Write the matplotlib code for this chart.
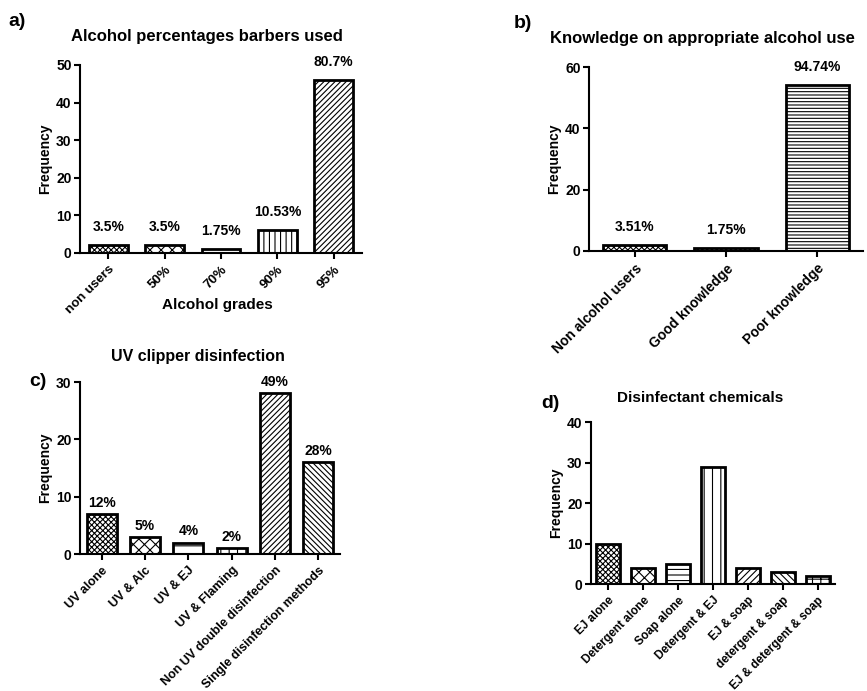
import numpy as np
import matplotlib
matplotlib.use("Agg")
import matplotlib.pyplot as plt

plt.rcParams.update({
    "font.family": ["Liberation Sans", "DejaVu Sans"],
    "font.weight": "bold",
    "axes.labelweight": "bold",
    "axes.linewidth": 1.5,
    "xtick.major.width": 1.5,
    "ytick.major.width": 1.5,
    "xtick.major.size": 4,
    "ytick.major.size": 4,
    "hatch.linewidth": 0.8,
})

# ---- data ----
a_cats = ["non users", "50%", "70%", "90%", "95%"]
a_vals = [2, 2, 1, 6, 46]
a_pct = ["3.5%", "3.5%", "1.75%", "10.53%", "80.7%"]
a_hatch = ["xxxxxx", "xxx", "", "|||", "//////"]

b_cats = ["Non alcohol users", "Good knowledge", "Poor knowledge"]
b_vals = [2, 1, 54]
b_pct = ["3.51%", "1.75%", "94.74%"]
b_hatch = ["xxxxxx", "xxxxxxx", "-----"]

c_cats = ["UV alone", "UV & Alc", "UV & EJ", "UV & Flaming",
          "Non UV double disinfection", "Single disinfection methods"]
c_vals = [7, 3, 2, 1, 28, 16]
c_pct = ["12%", "5%", "4%", "2%", "49%", "28%"]
c_hatch = ["xxxxxx", "xxx", "--", "++", "//////", "\\\\\\\\\\\\"]

d_cats = ["EJ alone", "Detergent alone", "Soap alone", "Detergent & EJ",
          "EJ & soap", "detergent & soap", "EJ & detergent & soap"]
d_vals = [10, 4, 5, 29, 4, 3, 2]
d_hatch = ["xxxxxx", "xxx", "---", "||", "/////", "\\\\\\\\\\", "++"]

W, H = 867, 691
fig = plt.figure(figsize=(W / 100, H / 100), dpi=100)


def px_axes(x0, x1, ytop, ybot):
    return fig.add_axes([x0 / W, 1 - ybot / H, (x1 - x0) / W, (ybot - ytop) / H])


def draw(ax, cats, vals, hatches, ymax, ystep, tick_fs, pct=None, off=10):
    x = np.arange(len(cats))
    for xi, v, h in zip(x, vals, hatches):
        ax.bar(xi, v, width=0.69, color="white", edgecolor="black",
               linewidth=2, hatch=h)
    if pct is not None:
        for xi, v, p in zip(x, vals, pct):
            ax.annotate(p, (xi, v), xytext=(0, off), textcoords="offset points",
                        ha="center", va="bottom", fontsize=10, fontweight="bold")
    ax.set_xlim(-0.5, len(cats) - 0.5)
    ax.set_ylim(0, ymax)
    ax.set_yticks(np.arange(0, ymax + 1, ystep))
    ax.set_xticks(x)
    ax.set_xticklabels(cats, rotation=45, ha="right", rotation_mode="anchor",
                       fontsize=tick_fs, fontweight="bold")
    ax.tick_params(axis="y", labelsize=10, pad=2)
    for s in ["top", "right"]:
        ax.spines[s].set_visible(False)
    ax.set_ylabel("Frequency", fontsize=10, fontweight="bold", labelpad=3)


# a)
ax_a = px_axes(80, 362, 65, 253)
draw(ax_a, a_cats, a_vals, a_hatch, 50, 10, 9.5, a_pct, off=8)
fig.text(217 / W, 1 - 305 / H, "Alcohol grades", ha="center", va="center",
         fontsize=11, fontweight="bold")
fig.text(207 / W, 1 - 36 / H, "Alcohol percentages barbers used", ha="center",
         va="center", fontsize=12, fontweight="bold")
fig.text(8 / W, 1 - 22 / H, "a)", ha="left", va="center", fontsize=14,
         fontweight="bold")

# b)
ax_b = px_axes(589, 863, 67, 251)
draw(ax_b, b_cats, b_vals, b_hatch, 60, 20, 10, b_pct, off=8)
fig.text(702 / W, 1 - 39 / H, "Knowledge on appropriate alcohol use",
         ha="center", va="center", fontsize=12, fontweight="bold")
fig.text(514 / W, 1 - 24 / H, "b)", ha="left", va="center", fontsize=14,
         fontweight="bold")

# c)
ax_c = px_axes(80, 340, 382, 554)
draw(ax_c, c_cats, c_vals, c_hatch, 30, 10, 9, c_pct, off=3)
fig.text(198 / W, 1 - 356 / H, "UV clipper disinfection", ha="center",
         va="center", fontsize=11.5, fontweight="bold")
fig.text(29 / W, 1 - 382 / H, "c)", ha="left", va="center", fontsize=14,
         fontweight="bold")

# d)
ax_d = px_axes(591, 835, 422, 584)
draw(ax_d, d_cats, d_vals, d_hatch, 40, 10, 8.5)
fig.text(700 / W, 1 - 398 / H, "Disinfectant chemicals", ha="center",
         va="center", fontsize=11, fontweight="bold")
fig.text(541 / W, 1 - 403 / H, "d)", ha="left", va="center", fontsize=14,
         fontweight="bold")

fig.savefig("out.png", dpi=100)
